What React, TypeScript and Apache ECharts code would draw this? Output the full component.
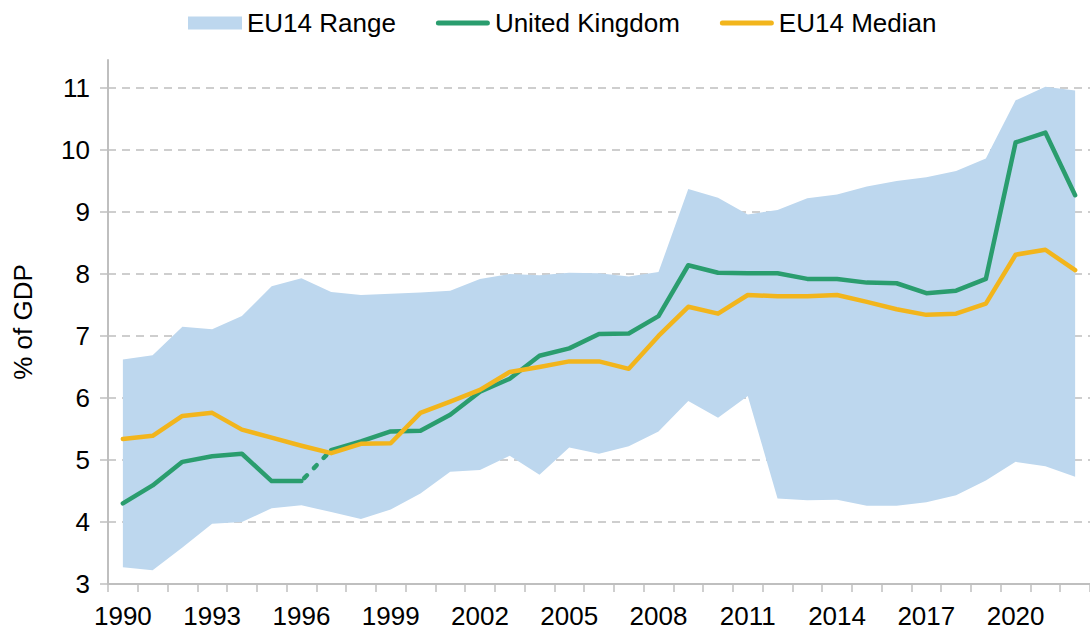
import React, { useEffect, useRef } from "react";
import * as echarts from "echarts";

const years: string[] = [];
for (let y = 1990; y <= 2022; y++) years.push(String(y));

const rangeUpper = [6.62, 6.69, 7.15, 7.11, 7.32, 7.8, 7.93, 7.71, 7.66, 7.68, 7.7, 7.73, 7.92, 8.0, 7.98, 8.02, 8.01, 7.96, 8.03, 9.37, 9.23, 8.96, 9.03, 9.22, 9.28, 9.41, 9.5, 9.56, 9.66, 9.86, 10.8, 11.02, 10.96];
const rangeLower = [3.27, 3.22, 3.59, 3.97, 4.0, 4.22, 4.27, 4.16, 4.05, 4.2, 4.46, 4.81, 4.84, 5.07, 4.76, 5.2, 5.1, 5.22, 5.46, 5.95, 5.68, 6.03, 4.38, 4.35, 4.36, 4.26, 4.26, 4.32, 4.43, 4.67, 4.97, 4.9, 4.73];
const ukValues = [4.3, 4.59, 4.97, 5.06, 5.1, 4.66, 4.66, 5.16, 5.3, 5.46, 5.47, 5.73, 6.1, 6.31, 6.68, 6.8, 7.03, 7.04, 7.32, 8.14, 8.02, 8.01, 8.01, 7.92, 7.92, 7.86, 7.85, 7.69, 7.73, 7.92, 10.12, 10.28, 9.27];
const medianValues = [5.34, 5.39, 5.71, 5.76, 5.49, 5.36, 5.23, 5.11, 5.26, 5.27, 5.76, 5.94, 6.13, 6.42, 6.5, 6.59, 6.59, 6.47, 7.0, 7.47, 7.36, 7.66, 7.64, 7.64, 7.66, 7.55, 7.43, 7.34, 7.36, 7.52, 8.31, 8.39, 8.06];
const yTicks = [3, 4, 5, 6, 7, 8, 9, 10, 11];
// UK series break: dashed between these two years
const dashFrom = "1996";
const dashTo = "1997";

const FONT = "'Liberation Sans', Arial, sans-serif";
const BLUE = "#BDD7EE";
const GREEN = "#2A9D6E";
const YELLOW = "#F2B51C";
const AXIS = "#BFBFBF";
const LINE_ICON = "path://M2.5,0 L51.5,0 A2.5,2.5 0 0 1 51.5,5 L2.5,5 A2.5,2.5 0 0 1 2.5,0 Z";

export default function App() {
  const ref = useRef<HTMLDivElement>(null);
  useEffect(() => {
    if (!ref.current) return;
    const chart = echarts.init(ref.current, null, { renderer: "svg" });
    const iFrom = years.indexOf(dashFrom);
    const iTo = years.indexOf(dashTo);
    const ukA = ukValues.map((v, i) => (i <= iFrom ? v : null));
    const ukDash = ukValues.map((v, i) => (i >= iFrom && i <= iTo ? v : null));
    const ukB = ukValues.map((v, i) => (i >= iTo ? v : null));
    const diff = rangeUpper.map((v, i) => +(v - rangeLower[i]).toFixed(3));
    const ukLine = { color: GREEN, width: 4.5, cap: "round", join: "round" };
    chart.setOption({
      animation: false,
      textStyle: { fontFamily: FONT },
      legend: {
        left: 183,
        top: 5,
        itemWidth: 54,
        itemHeight: 13,
        itemGap: 40,
        textStyle: { fontSize: 26, color: "#000", fontFamily: FONT },
        data: [
          { name: "EU14 Range", icon: "rect", itemStyle: { color: BLUE } },
          { name: "United Kingdom", icon: LINE_ICON, itemStyle: { color: GREEN } },
          { name: "EU14 Median", icon: LINE_ICON, itemStyle: { color: YELLOW } },
        ],
      },
      grid: { left: 108, top: 60, width: 986, height: 524, containLabel: false },
      xAxis: {
        type: "category",
        data: years,
        boundaryGap: true,
        axisLine: { lineStyle: { color: AXIS, width: 2 } },
        axisTick: { show: true, interval: 0, length: 8, lineStyle: { color: AXIS, width: 1.5 } },
        axisLabel: { interval: 2, fontSize: 26, color: "#000", margin: 19, fontFamily: FONT },
        splitLine: { show: false },
      },
      yAxis: {
        type: "value",
        min: 3,
        max: 11.45,
        interval: 1,
        name: "% of GDP",
        nameLocation: "middle",
        nameGap: 72,
        nameRotate: 90,
        nameTextStyle: { fontSize: 26, color: "#000", fontFamily: FONT },
        axisLine: { show: true, lineStyle: { color: AXIS, width: 2 } },
        axisTick: { show: true, length: 8, customValues: yTicks, lineStyle: { color: AXIS, width: 1.5 } },
        axisLabel: { fontSize: 26, color: "#000", margin: 18, customValues: yTicks, fontFamily: FONT },
        splitLine: { show: true, lineStyle: { color: "#BFBFBF", width: 1.5, type: [8, 6] } },
      },
      series: [
        {
          name: "rangeBase",
          type: "line",
          stack: "range",
          data: rangeLower,
          symbol: "none",
          lineStyle: { opacity: 0 },
          silent: true,
        },
        {
          name: "EU14 Range",
          type: "line",
          stack: "range",
          data: diff,
          symbol: "none",
          lineStyle: { opacity: 0, width: 0 },
          itemStyle: { color: BLUE },
          areaStyle: { color: BLUE, opacity: 1 },
        },
        {
          name: "United Kingdom",
          type: "line",
          data: ukA,
          symbol: "none",
          itemStyle: { color: GREEN },
          lineStyle: ukLine,
        },
        {
          name: "United Kingdom",
          type: "line",
          data: ukDash,
          symbol: "none",
          itemStyle: { color: GREEN },
          lineStyle: { ...ukLine, type: [4, 10], dashOffset: 10 },
        },
        {
          name: "United Kingdom",
          type: "line",
          data: ukB,
          symbol: "none",
          itemStyle: { color: GREEN },
          lineStyle: ukLine,
        },
        {
          name: "EU14 Median",
          type: "line",
          data: medianValues,
          symbol: "none",
          itemStyle: { color: YELLOW },
          lineStyle: { color: YELLOW, width: 4.5, cap: "round", join: "round" },
        },
      ],
    });
    return () => chart.dispose();
  }, []);
  return (
    <div
      ref={ref}
      style={{ position: "fixed", left: 0, top: 0, width: 1090, height: 630, background: "#fff" }}
    />
  );
}
